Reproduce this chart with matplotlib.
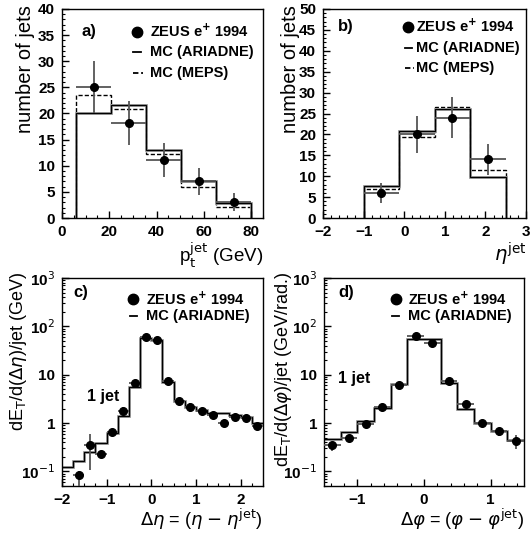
import numpy as np
import matplotlib
matplotlib.use('Agg')
import matplotlib.pyplot as plt
from matplotlib.ticker import MultipleLocator, LogLocator, NullFormatter

plt.rc('font', **{'family': 'sans-serif', 'sans-serif': ['Liberation Sans', 'DejaVu Sans'],
                  'size': 10})
plt.rc('mathtext', fontset='dejavusans')
plt.rc('axes', linewidth=1.0)

# ---- panel a: pt of jets ----
pt_edges = [6.0, 20.8, 35.6, 50.4, 65.2, 80.0]
pt_ariadne = [20.0, 21.6, 13.0, 7.1, 2.9]
pt_meps = [23.5, 20.8, 12.2, 6.0, 2.2]
pt_data = [25.0, 18.1, 11.1, 7.0, 3.1]
pt_err = [5.0, 4.2, 3.3, 2.65, 1.7]

# ---- panel b: eta of jets ----
eta_edges = [-1.0, -0.125, 0.75, 1.625, 2.5]
eta_ariadne = [7.6, 20.8, 26.1, 9.7]
eta_meps = [6.9, 19.4, 26.5, 11.4]
eta_data = [6.0, 20.0, 24.0, 14.0]
eta_err = [2.4, 4.5, 4.9, 3.7]

# ---- panel c: dE_T/d(delta eta) ----
deta_edges = [-2.0, -1.75, -1.5, -1.25, -1.0, -0.75, -0.5, -0.25, 0.0, 0.25,
              0.5, 0.75, 1.0, 1.25, 1.5, 1.75, 2.0, 2.25, 2.5]
deta_mc = [0.122, 0.167, 0.25, 0.39, 0.63, 1.40, 5.5, 57.0, 52.0, 7.0,
           2.9, 2.2, 1.87, 1.64, 1.64, 1.47, 1.32, 1.02]
deta_x = [-1.625, -1.375, -1.125, -0.875, -0.625, -0.375, -0.125, 0.125, 0.375,
          0.625, 0.875, 1.125, 1.375, 1.625, 1.875, 2.125, 2.375]
deta_data = [0.085, 0.35, 0.23, 0.65, 1.78, 6.85, 59.5, 52.0, 7.5,
             2.86, 2.19, 1.78, 1.47, 1.0, 1.32, 1.28, 0.89]
deta_lo = [0.03, 0.107, 0.19, 0.55, 1.5, 6.2, 55.0, 48.0, 6.8,
           2.4, 1.7, 1.6, 1.35, 0.9, 1.2, 1.05, 0.8]
deta_hi = [0.104, 0.6, 0.27, 0.77, 2.1, 7.5, 64.0, 56.0, 8.2,
           3.3, 2.6, 2.0, 1.6, 1.1, 1.45, 1.5, 0.98]

# ---- panel d: dE_T/d(delta phi) ----
dphi_edges = [-1.5, -1.25, -1.0, -0.75, -0.5, -0.25, 0.0, 0.25, 0.5, 0.75, 1.0, 1.25, 1.5]
dphi_mc = [0.47, 0.66, 1.1, 2.05, 6.3, 56.0, 55.0, 6.6, 1.98, 1.02, 0.69, 0.45]
dphi_x = [-1.375, -1.125, -0.875, -0.625, -0.375, -0.125, 0.125, 0.375, 0.625, 0.875, 1.125, 1.375]
dphi_data = [0.35, 0.48, 0.94, 2.12, 6.1, 63.0, 45.0, 7.5, 2.44, 1.0, 0.69, 0.43]
dphi_lo = [0.27, 0.42, 0.85, 1.9, 5.6, 59.0, 42.0, 6.9, 2.2, 0.88, 0.54, 0.29]
dphi_hi = [0.41, 0.55, 1.04, 2.35, 6.6, 67.0, 48.0, 8.1, 2.7, 1.15, 0.78, 0.57]

log_ticks = [0.1, 1, 10, 100, 1000]
log_labels = [r'10$^{-1}$', '1', '10', r'10$^{2}$', r'10$^{3}$']

ERR_COL = '#555555'


def style_axis(ax):
    ax.tick_params(which='both', direction='in', top=False, right=False, labelsize=11)
    ax.tick_params(which='major', length=5, width=1.0, pad=5)
    ax.tick_params(which='minor', length=2.5, width=0.8)
    for lbl in ax.get_xticklabels() + ax.get_yticklabels():
        lbl.set_fontweight('bold')


def draw_mc(ax, edges, vals, baseline):
    ax.stairs(vals, edges, baseline=baseline, color='#999999', lw=2.0)
    ax.stairs(vals, edges, baseline=baseline, color='k', lw=0.9)


def draw_data(ax, x, y, xerr, yerr):
    ax.errorbar(x, y, xerr=xerr, yerr=yerr, fmt='o', color='k', ms=5.5,
                ecolor=ERR_COL, elinewidth=1.3, capsize=0, zorder=5)


def draw_key(ax, x0, xt, rows, label, label_xy):
    for y, kind, text in rows:
        if kind == 'data':
            ax.plot([x0], [y], 'o', color='k', ms=7.5, transform=ax.transAxes)
        else:
            ls = '-' if kind == 'solid' else (0, (3, 1.5))
            ax.plot([x0 - 0.018, x0 + 0.018 + (0.012 if kind == 'dash' else 0)], [y, y],
                    color='k', lw=1.3, ls=ls, transform=ax.transAxes)
        ax.text(xt, y, text, transform=ax.transAxes, va='center', ha='left',
                fontsize=10.5, fontweight='bold')
    ax.text(label_xy[0], label_xy[1], label, transform=ax.transAxes, va='center',
            ha='left', fontsize=12, fontweight='bold')


fig = plt.figure(figsize=(5.30, 5.33), dpi=100)
ax_a = fig.add_axes([62/530, 1-218/533, 201/530, 209/533])
ax_b = fig.add_axes([323/530, 1-218/533, 203/530, 209/533])
ax_c = fig.add_axes([62/530, 1-486/533, 201/530, 208/533])
ax_d = fig.add_axes([324/530, 1-486/533, 200/530, 208/533])

zeus = r'ZEUS e$^{\mathbf{+}}$ 1994'

# a)
pt_centers = [(lo + hi) / 2 for lo, hi in zip(pt_edges[:-1], pt_edges[1:])]
pt_half = [(hi - lo) / 2 for lo, hi in zip(pt_edges[:-1], pt_edges[1:])]
ax_a.stairs(pt_meps, pt_edges, baseline=0, color='k', lw=1.0, ls=(0, (3, 1.5)))
draw_mc(ax_a, pt_edges, pt_ariadne, 0)
draw_data(ax_a, pt_centers, pt_data, pt_half, pt_err)
ax_a.set_xlim(0, 85)
ax_a.set_ylim(0, 40)
ax_a.xaxis.set_major_locator(MultipleLocator(20))
ax_a.xaxis.set_minor_locator(MultipleLocator(5))
ax_a.yaxis.set_major_locator(MultipleLocator(5))
ax_a.yaxis.set_minor_locator(MultipleLocator(1))
ax_a.set_ylabel('number of jets', fontsize=14.5, loc='top')
ax_a.yaxis.set_label_coords(-0.135, 1.02)
ax_a.set_xlabel(r'p$_{\rm t}^{\rm jet}$ (GeV)', fontsize=13.5, loc='right')
ax_a.xaxis.set_label_coords(1.0, -0.11)
draw_key(ax_a, 0.373, 0.44,
         [(0.891, 'data', zeus), (0.796, 'solid', 'MC (ARIADNE)'), (0.695, 'dash', 'MC (MEPS)')],
         'a)', (0.098, 0.891))

# b)
eta_centers = [(lo + hi) / 2 for lo, hi in zip(eta_edges[:-1], eta_edges[1:])]
eta_half = [(hi - lo) / 2 for lo, hi in zip(eta_edges[:-1], eta_edges[1:])]
ax_b.stairs(eta_meps, eta_edges, baseline=0, color='k', lw=1.0, ls=(0, (3, 1.5)))
draw_mc(ax_b, eta_edges, eta_ariadne, 0)
draw_data(ax_b, eta_centers, eta_data, eta_half, eta_err)
ax_b.set_xlim(-2, 3)
ax_b.set_ylim(0, 50)
ax_b.xaxis.set_major_locator(MultipleLocator(1))
ax_b.xaxis.set_minor_locator(MultipleLocator(0.2))
ax_b.yaxis.set_major_locator(MultipleLocator(5))
ax_b.yaxis.set_minor_locator(MultipleLocator(1))
ax_b.set_ylabel('number of jets', fontsize=14.5, loc='top')
ax_b.yaxis.set_label_coords(-0.113, 1.02)
ax_b.set_xlabel(r'$\eta^{\rm jet}$', fontsize=14, loc='right')
ax_b.xaxis.set_label_coords(1.0, -0.11)
draw_key(ax_b, 0.42, 0.46,
         [(0.915, 'data', zeus), (0.815, 'solid', 'MC (ARIADNE)'), (0.716, 'dash', 'MC (MEPS)')],
         'b)', (0.075, 0.915))

# c)
draw_mc(ax_c, deta_edges, deta_mc, None)
yerr_c = [np.array(deta_data) - np.array(deta_lo), np.array(deta_hi) - np.array(deta_data)]
draw_data(ax_c, deta_x, deta_data, 0.125, yerr_c)
ax_c.set_yscale('log')
ax_c.set_xlim(-2, 2.5)
ax_c.set_ylim(0.05, 1000)
ax_c.xaxis.set_major_locator(MultipleLocator(1))
ax_c.xaxis.set_minor_locator(MultipleLocator(0.25))
ax_c.set_ylabel(r'dE$_{\rm T}$/d($\Delta\eta$)/jet (GeV)', fontsize=13, loc='top')
ax_c.yaxis.set_label_coords(-0.165, 1.03)
ax_c.set_xlabel(r'$\Delta\eta$ = ($\eta$ $-$ $\eta^{\rm jet}$)', fontsize=13, loc='right')
ax_c.xaxis.set_label_coords(1.0, -0.1)
ax_c.text(-1.45, 3.6, '1 jet', fontsize=11.5, fontweight='bold', va='center', ha='left')
draw_key(ax_c, 0.355, 0.416,
         [(0.899, 'data', zeus), (0.817, 'solid', 'MC (ARIADNE)')],
         'c)', (0.055, 0.928))

# d)
draw_mc(ax_d, dphi_edges, dphi_mc, None)
yerr_d = [np.array(dphi_data) - np.array(dphi_lo), np.array(dphi_hi) - np.array(dphi_data)]
draw_data(ax_d, dphi_x, dphi_data, 0.125, yerr_d)
ax_d.set_yscale('log')
ax_d.set_xlim(-1.5, 1.5)
ax_d.set_ylim(0.05, 1000)
ax_d.xaxis.set_major_locator(MultipleLocator(1))
ax_d.xaxis.set_minor_locator(MultipleLocator(0.2))
ax_d.set_ylabel(r'dE$_{\rm T}$/d($\Delta\varphi$)/jet (GeV/rad.)', fontsize=13, loc='top')
ax_d.yaxis.set_label_coords(-0.15, 1.03)
ax_d.set_xlabel(r'$\Delta\varphi$ = ($\varphi$ $-$ $\varphi^{\rm jet}$)', fontsize=13, loc='right')
ax_d.xaxis.set_label_coords(1.0, -0.1)
ax_d.text(-1.29, 8.5, '1 jet', fontsize=11.5, fontweight='bold', va='center', ha='left')
draw_key(ax_d, 0.358, 0.42,
         [(0.899, 'data', zeus), (0.817, 'solid', 'MC (ARIADNE)')],
         'd)', (0.07, 0.928))

for ax in (ax_c, ax_d):
    ax.set_yticks(log_ticks, labels=log_labels)
    ax.yaxis.set_minor_locator(LogLocator(base=10, subs=np.arange(2, 10)))
    ax.yaxis.set_minor_formatter(NullFormatter())

for ax in (ax_a, ax_b, ax_c, ax_d):
    style_axis(ax)

fig.savefig('out.png', dpi=100)
